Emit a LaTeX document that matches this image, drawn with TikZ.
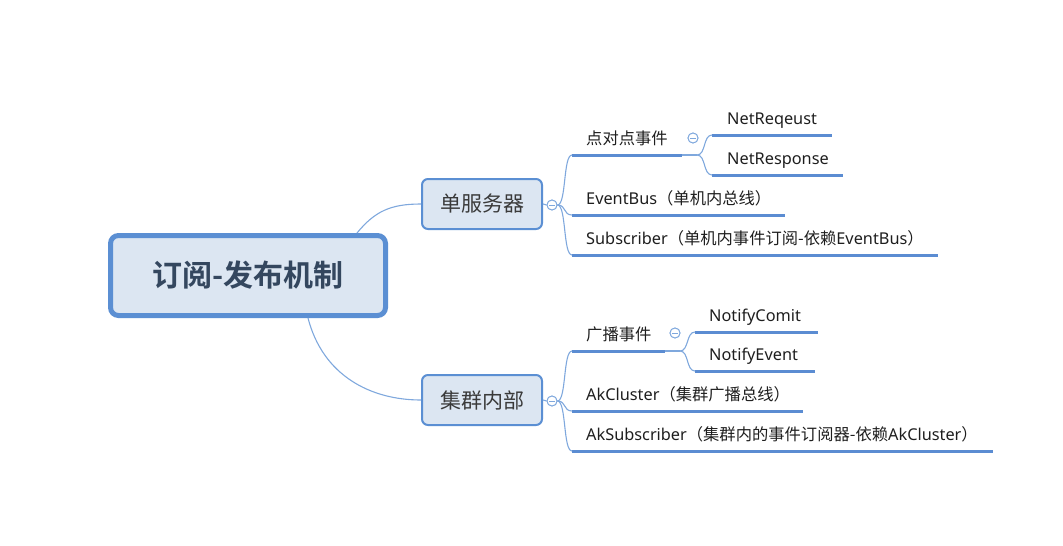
\documentclass[tikz,border=0pt]{standalone}
\usepackage{fontspec}
\setmainfont{Noto Sans CJK SC}[BoldFont={Noto Sans CJK SC Bold}]
\newfontfamily\lat{Noto Sans}
\definecolor{bord}{HTML}{5B8FD3}
\definecolor{boxfill}{HTML}{DCE6F2}
\definecolor{conncol}{HTML}{7FA8DD}
\definecolor{ulcol}{HTML}{5B8CD2}
\definecolor{roottext}{HTML}{34475F}
\definecolor{subtext}{HTML}{3A3A3A}
\definecolor{leaftext}{HTML}{1E1E1E}
\tikzset{
  rootbox/.style={draw=bord, fill=boxfill, line width=5pt, rounded corners=8pt,
    minimum width=275pt, minimum height=80pt, text=roottext,
    font=\fontsize{30}{34}\selectfont\bfseries},
  subbox/.style={draw=bord, fill=boxfill, line width=2pt, rounded corners=6pt,
    minimum width=120pt, minimum height=50pt, text=subtext,
    font=\fontsize{21}{24}\selectfont},
  leaf/.style={anchor=south west, inner xsep=14pt, inner ysep=5.5pt,
    text depth=4.5pt, text height=11pt, align=left, text=leaftext,
    font=\fontsize{16.3}{19}\selectfont},
  uline/.style={draw=ulcol, line width=3pt},
  conn/.style={draw=conncol, line width=1.1pt},
  fold/.style={circle, draw=conncol, fill=white, line width=0.9pt,
    minimum size=10pt, inner sep=0pt},
}
\newcommand{\foldminus}[1]{\draw[conncol, line width=0.9pt] ([xshift=-2.6pt]#1.center) -- ([xshift=2.6pt]#1.center);}
\begin{document}
\begin{tikzpicture}[x=1pt, y=-1pt]
\useasboundingbox (0,0) rectangle (1063,546);

% main nodes
\node[rootbox] (root) at (248,275.5) {订阅-发布机制};
\node[subbox] (b1) at (482,204) {单服务器};
\node[subbox] (b2) at (482,400) {集群内部};

% root connectors
\draw[conn] ([xshift=109pt]root.north) .. controls +(18,-22) and +(-30,0) .. (b1.west);
\draw[conn] ([xshift=60pt]root.south) .. controls +(15,58) and +(-50,0) .. (b2.west);

% fold circles
\node[fold] (c1) at (552,205) {};
\node[fold] (c2) at (693,138) {};
\node[fold] (c3) at (552,401) {};
\node[fold] (c4) at (675,333) {};

% top leaves
\node[leaf, text width=82pt] (p2p) at (572,155) {点对点事件};
\node[leaf, text width=90pt, inner xsep=15pt] (nreq) at (712,135) {{\lat NetReqeust}};
\node[leaf, text width=101pt, inner xsep=15pt] (nresp) at (712,175) {{\lat NetResponse}};
\node[leaf, text width=185pt] (ebus) at (572,215) {{\lat EventBus}（单机内总线）};
\node[leaf, text width=338pt] (subs) at (572,255) {{\lat Subscriber}（单机内事件订阅-依赖{\lat EventBus}）};
\coordinate (j1) at (697,155);

% bottom leaves
\node[leaf, text width=65pt] (bc) at (572,351) {广播事件};
\node[leaf, text width=95pt] (ncom) at (695,332) {{\lat NotifyComit}};
\node[leaf, text width=92pt] (nev) at (695,371) {{\lat NotifyEvent}};
\node[leaf, text width=203pt] (akc) at (572,411) {{\lat AkCluster}（集群广播总线）};
\node[leaf, text width=393pt] (aks) at (572,451) {{\lat AkSubscriber}（集群内的事件订阅器-依赖{\lat AkCluster}）};
\coordinate (j2) at (680,351);

% underlines
\foreach \n in {p2p,nreq,nresp,ebus,subs,bc,ncom,nev,akc,aks}
  \draw[uline] (\n.south west) -- (\n.south east);

% top tree connectors
\draw[conn] (b1.east) -- (c1.west);
\foreach \n in {p2p,ebus,subs}
  \draw[conn] (c1.east) .. controls +(9,0) and +(-9,0) .. (\n.south west);
\draw[conn] (p2p.south east) -- (j1);
\foreach \n in {nreq,nresp}
  \draw[conn] (j1) .. controls +(9,0) and +(-9,0) .. (\n.south west);

% bottom tree connectors
\draw[conn] (b2.east) -- (c3.west);
\foreach \n in {bc,akc,aks}
  \draw[conn] (c3.east) .. controls +(9,0) and +(-9,0) .. (\n.south west);
\draw[conn] (bc.south east) -- (j2);
\foreach \n in {ncom,nev}
  \draw[conn] (j2) .. controls +(9,0) and +(-9,0) .. (\n.south west);

% fold circles on top
\node[fold] at (c1) {};
\node[fold] at (c2) {};
\node[fold] at (c3) {};
\node[fold] at (c4) {};
\foldminus{c1}\foldminus{c2}\foldminus{c3}\foldminus{c4}
\end{tikzpicture}
\end{document}
